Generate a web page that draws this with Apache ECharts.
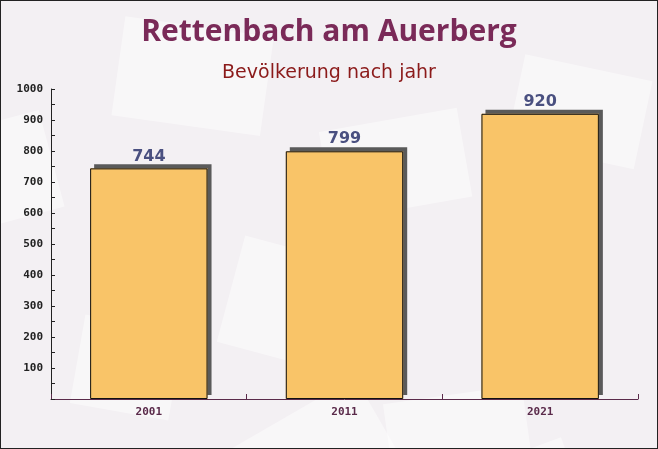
<!DOCTYPE html>
<html>
<head>
<meta charset="utf-8">
<script src="https://cdn.jsdelivr.net/npm/echarts@6/dist/echarts.min.js"></script>
<style>
html,body{margin:0;padding:0;}
#c{width:656px;height:447px;border:1px solid #222;background:#f3f0f3;}
</style>
</head>
<body>
<div id="c"></div>
<script>
const titleText = "Rettenbach am Auerberg";
const subtitleText = "Bevölkerung nach jahr";
const categories = ["2001", "2011", "2021"];
const values = [744, 799, 920];
const yTicks = [100, 200, 300, 400, 500, 600, 700, 800, 900, 1000];

const chart = echarts.init(document.getElementById('c'), null, {renderer: 'canvas'});
const bgShapes = [];
const rects = [
  [110, 40, 150, 100, -8], [300, 230, 170, 120, 30], [470, 160, 130, 90, -12],
  [10, 110, 70, 100, 15], [150, 280, 140, 110, -15], [520, 260, 120, 110, 20],
  [330, 60, 140, 90, 10], [20, 320, 100, 90, -10], [430, 330, 140, 100, 8]
];
rects.forEach(r => bgShapes.push({
  type: 'rect', x: r[0], y: r[1], shape: {width: r[2], height: r[3]},
  rotation: r[4] * Math.PI / 180, originX: r[0] + r[2] / 2, originY: r[1] + r[3] / 2,
  style: {fill: 'rgba(255,255,255,0.45)'}, z: -10, silent: true
}));

chart.setOption({
  backgroundColor: '#f3f0f3',
  animation: false,
  graphic: bgShapes,
  title: [
    {text: titleText, left: 'center', top: 11,
     textStyle: {fontFamily: 'Open Sans', fontWeight: 'bold', fontSize: 30, color: '#7a2a58'}},
    {text: subtitleText, left: 'center', top: 58,
     textStyle: {fontFamily: 'DejaVu Sans', fontWeight: 'normal', fontSize: 19, color: '#8b1a1a'}}
  ],
  grid: {left: 50, right: 19, top: 88, bottom: 49, containLabel: false},
  xAxis: {
    type: 'category', data: categories,
    axisLine: {lineStyle: {color: '#5a2a4a', width: 1}},
    axisTick: {show: true, inside: true, length: 5, lineStyle: {color: '#5a2a4a'}},
    axisLabel: {fontFamily: 'DejaVu Sans Mono', fontWeight: 'bold', fontSize: 11, color: '#5a2a4a', margin: 8},
    splitLine: {show: false}
  },
  yAxis: {
    type: 'value', min: 0, max: 1000, interval: 100,
    axisLine: {show: true, lineStyle: {color: '#222', width: 1}},
    axisTick: {show: true, inside: true, length: 4, lineStyle: {color: '#222'}},
    minorTick: {show: true, splitNumber: 2, length: 4, lineStyle: {color: '#222'}},
    axisLabel: {fontFamily: 'DejaVu Sans Mono', fontWeight: 'bold', fontSize: 11, color: '#222', margin: 8,
      formatter: v => (yTicks.includes(v) ? String(v) : '')},
    splitLine: {show: false}
  },
  series: [
    {
      type: 'bar', data: values, barWidth: '60%', barGap: '-100%', z: 2,
      itemStyle: {color: '#f9c468', borderWidth: 0,
        shadowColor: '#5a5a5a', shadowBlur: 0, shadowOffsetX: 4, shadowOffsetY: -4},
      label: {show: true, position: 'top', distance: 4,
        fontFamily: 'DejaVu Sans', fontWeight: 'bold', fontSize: 16, color: '#4a5080'}
    },
    {
      type: 'bar', data: values, barWidth: '60%', barGap: '-100%', z: 3, silent: true,
      itemStyle: {color: 'rgba(0,0,0,0)', borderColor: '#111', borderWidth: 1},
      label: {show: false}
    }
  ]
});
</script>
</body>
</html>
